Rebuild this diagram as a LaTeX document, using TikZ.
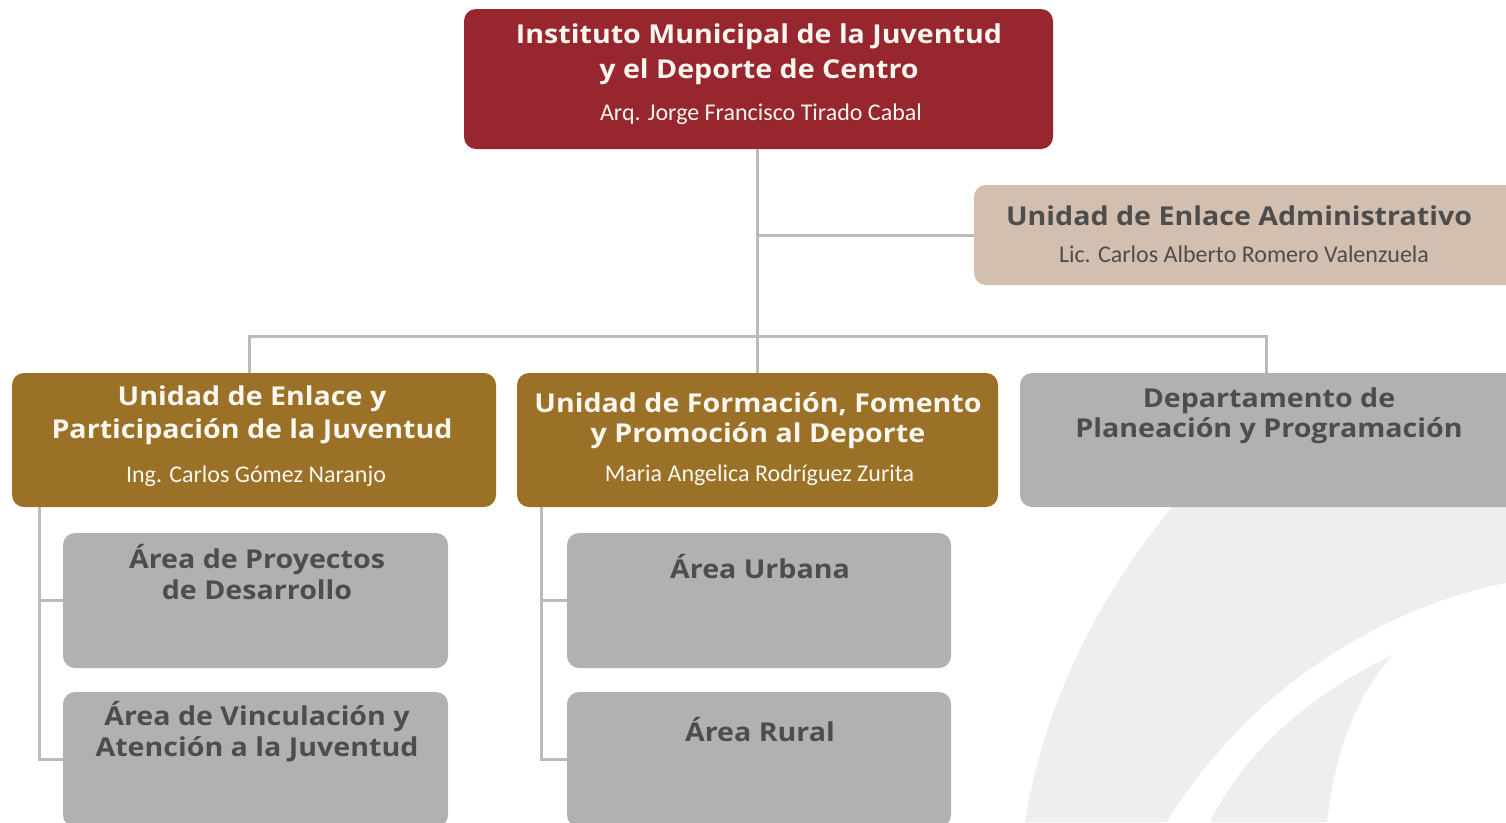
\documentclass[tikz,border=0pt]{standalone}
\usepackage{fontspec}
\setmainfont{Open Sans}
\newfontfamily\hdfont{Open Sans}[FakeStretch=1.1]
\newfontfamily\calfont{Carlito}
\definecolor{cred}{HTML}{97262E}
\definecolor{cgold}{HTML}{9A7127}
\definecolor{ctan}{HTML}{D3BFAF}
\definecolor{cgray}{HTML}{B0B2B2}
\definecolor{cline}{HTML}{BBBBBB}
\definecolor{ctext}{HTML}{4D4D4D}
\definecolor{cwm}{HTML}{EEEEEE}
\definecolor{cwhite}{HTML}{FAF6F0}
\tikzset{
  box/.style={rectangle, rounded corners=12pt, inner sep=0pt, draw=none},
  redbox/.style={box, fill=cred},
  goldbox/.style={box, fill=cgold},
  tanbox/.style={box, fill=ctan},
  graybox/.style={box, fill=cgray},
  conn/.style={draw=cline, line width=3pt},
  hd/.style={anchor=base, inner sep=0pt, font=\hdfont\bfseries\fontsize{26}{30}\selectfont},
  hdw/.style={hd, text=cwhite},
  hdg/.style={hd, text=ctext},
  nm/.style={anchor=base, inner sep=0pt, font=\calfont\fontsize{24}{28}\selectfont},
}
\begin{document}
\begin{tikzpicture}[x=1pt,y=-1pt]
\clip (0,0) rectangle (1506,822);
\fill[white] (0,0) rectangle (1506,822);
% watermark
\fill[cwm] (1195,480) .. controls (1080,610) and (1040,730) .. (1025,822) -- (1167,822)
  .. controls (1240,700) and (1370,610) .. (1506,583) -- (1506,480) -- cycle;
\fill[cwm] (1392,655) .. controls (1300,700) and (1240,760) .. (1210,822) -- (1327,822)
  .. controls (1335,750) and (1355,700) .. (1392,655) -- cycle;
% boxes
\node[redbox, minimum width=589pt, minimum height=140pt] (top) at (758.5,79) {};
\node[tanbox, minimum width=556pt, minimum height=100pt] (adm) at (1252,235) {};
\node[goldbox, minimum width=484pt, minimum height=134pt] (lef) at (254,440) {};
\node[goldbox, minimum width=481pt, minimum height=134pt] (mid) at (757.5,440) {};
\node[graybox, minimum width=510pt, minimum height=134pt] (dep) at (1275,440) {};
\node[graybox, minimum width=385pt, minimum height=135pt] (c1) at (255.5,600.5) {};
\node[graybox, minimum width=385pt, minimum height=135pt] (c2) at (255.5,759.5) {};
\node[graybox, minimum width=384pt, minimum height=135pt] (c3) at (759,600.5) {};
\node[graybox, minimum width=384pt, minimum height=135pt] (c4) at (759,759.5) {};
% connectors
\coordinate (bl) at (249,336);
\coordinate (br) at (1266,336);
\coordinate (bm) at (757,336);
\coordinate (am) at (757,235);
\draw[conn] (top.south -| bm) -- (mid.north -| bm);
\draw[conn] (am) -- (adm.west);
\draw[conn] (bl |- lef.north) -- (bl) -- (br) -- (br |- dep.north);
\draw[conn] ([xshift=28pt]lef.south west) |- (c1.west);
\draw[conn] ([xshift=28pt]lef.south west) |- (c2.west);
\draw[conn] ([xshift=25pt]mid.south west) |- (c3.west);
\draw[conn] ([xshift=25pt]mid.south west) |- (c4.west);
% texts
\node[hdw] (t1) at (759,43) {Instituto Municipal de la Juventud};
\node[hdw] (t2) at (759,78) {y el Deporte de Centro};
\node[nm, text=cwhite] (t3) at (761,120) {Arq. Jorge Francisco Tirado Cabal};
\node[hdg] (a1) at (1239,225) {Unidad de Enlace Administrativo};
\node[nm, text=ctext] (a2) at (1244,262) {Lic. Carlos Alberto Romero Valenzuela};
\node[hdw] (l1) at (252,405) {Unidad de Enlace y};
\node[hdw] (l2) at (252,438) {Participación de la Juventud};
\node[nm, text=cwhite] (l3) at (256,482) {Ing. Carlos Gómez Naranjo};
\node[hdw] (m1) at (758,412) {Unidad de Formación, Fomento};
\node[hdw] (m2) at (758,442) {y Promoción al Deporte};
\node[nm, text=cwhite] (m3) at (759.5,481) {Maria Angelica Rodríguez Zurita};
\node[hdg] (d1) at (1269,407) {Departamento de};
\node[hdg] (d2) at (1269,437) {Planeación y Programación};
\node[hdg] (e1) at (257,568) {Área de Proyectos};
\node[hdg] (e2) at (257,599) {de Desarrollo};
\node[hdg] (f1) at (257,725) {Área de Vinculación y};
\node[hdg] (f2) at (257,756) {Atención a la Juventud};
\node[hdg] (g1) at (760,578) {Área Urbana};
\node[hdg] (h1) at (760,741) {Área Rural};
\end{tikzpicture}
\end{document}
